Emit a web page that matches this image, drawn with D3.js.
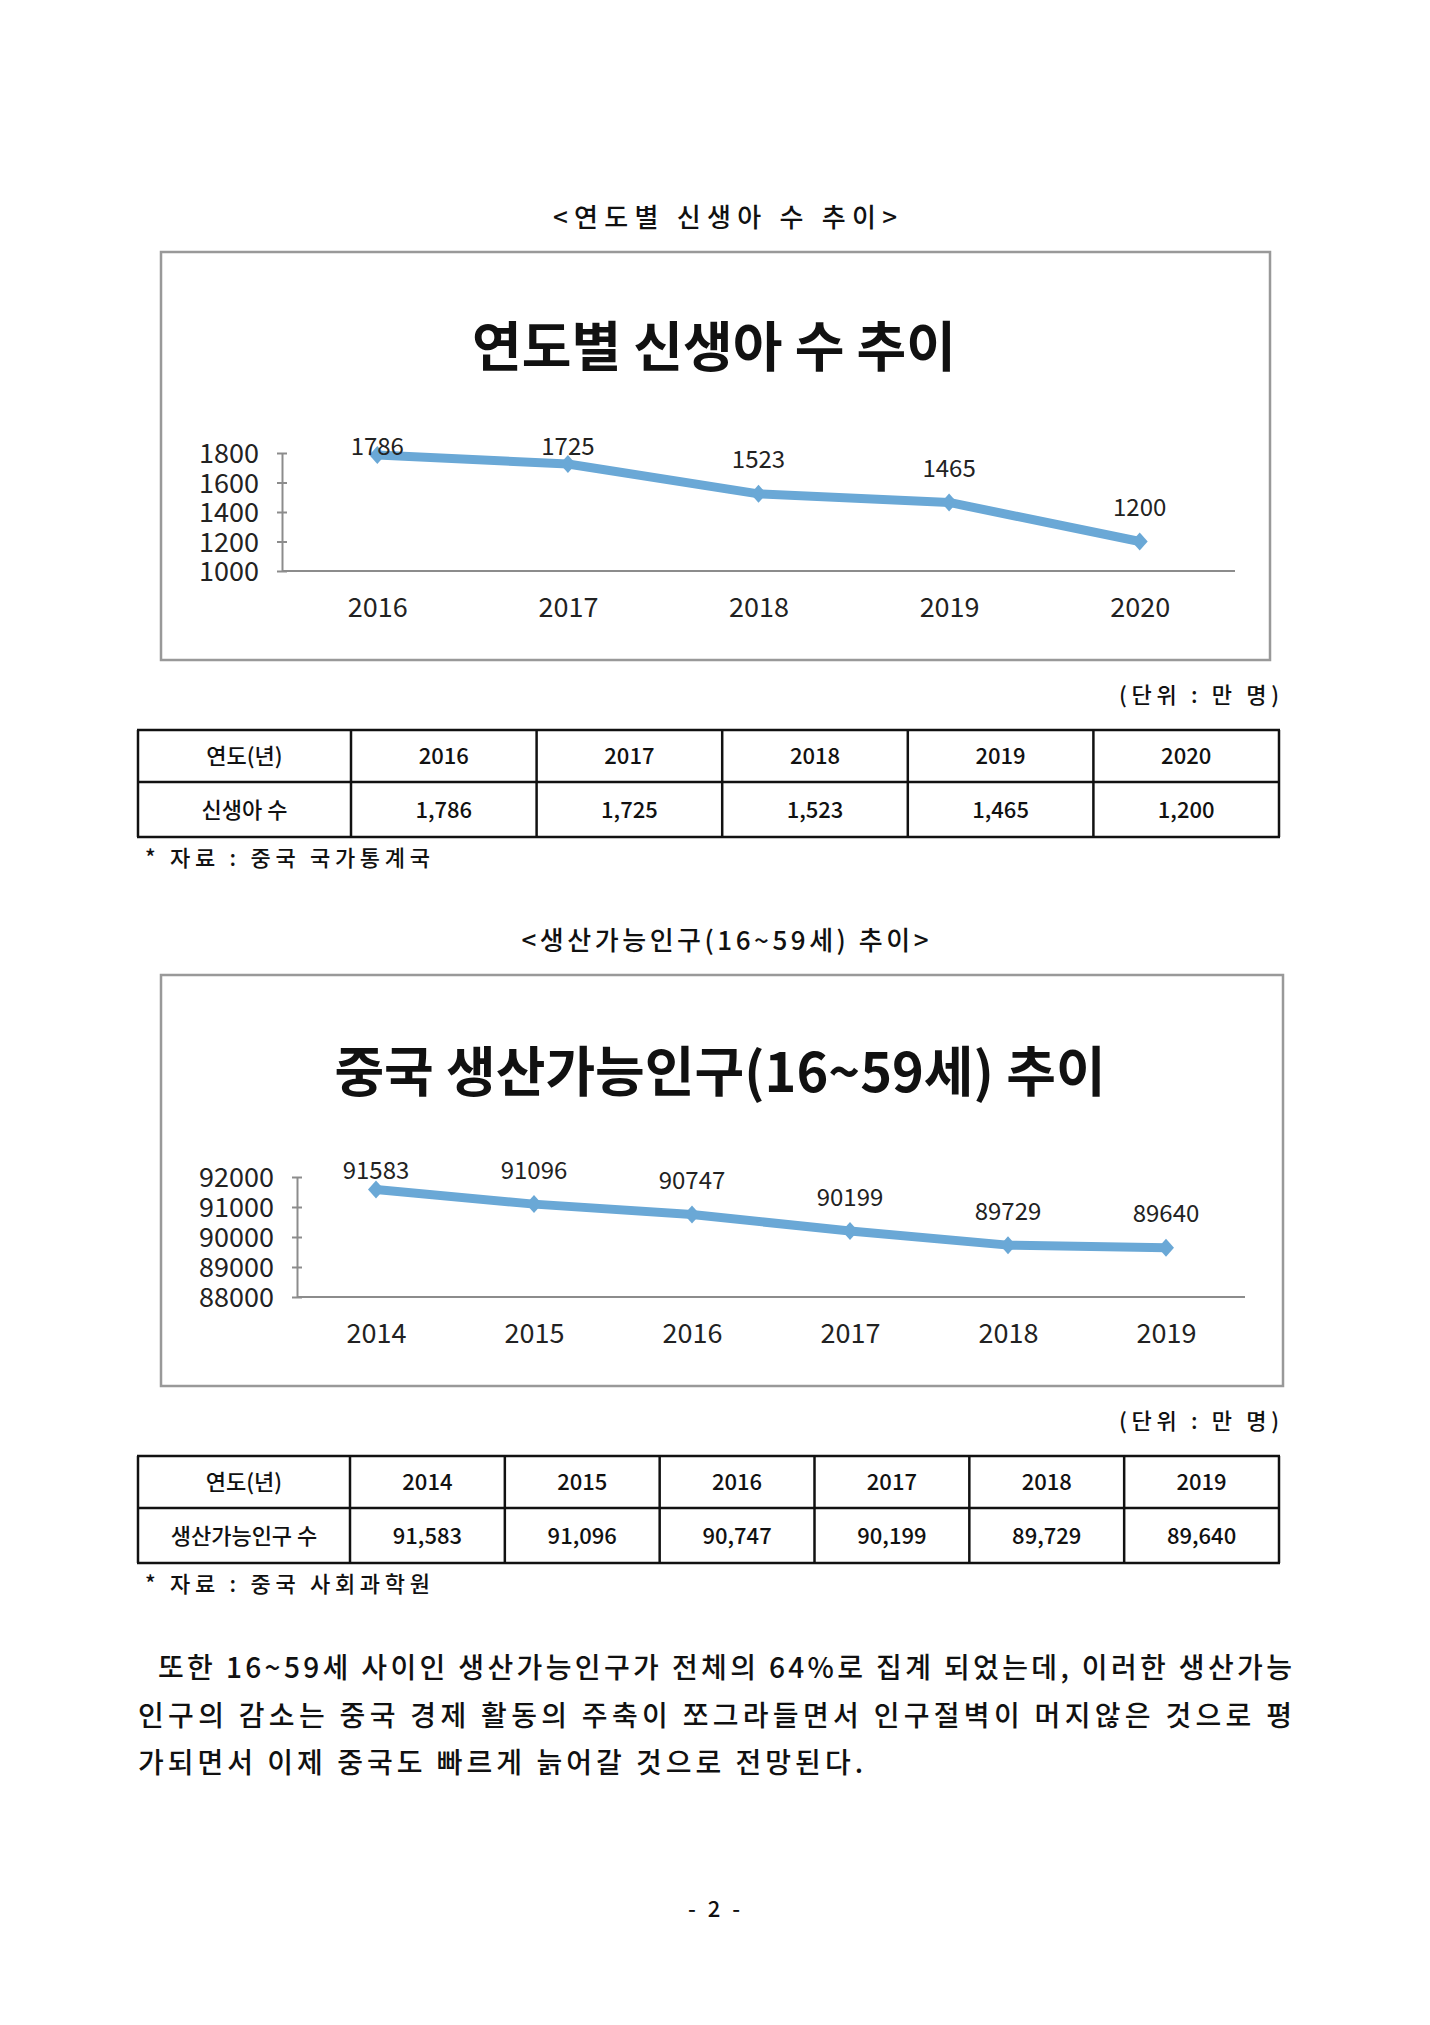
<html>
<head>
<meta charset="utf-8" />
<script src="https://d3js.org/d3.v7.min.js"></script>
<style>
  body { margin: 0; background: #fff; }
  svg text { font-family: "Noto Sans CJK KR", "Noto Sans", sans-serif; }
  .doc { fill: #111; font-weight: 500; }
  .axis path, .axis line { stroke: #8c8c8c; stroke-width: 2; }
  .axis text { fill: #222; font-size: 27px; }
</style>
</head>
<body>
<svg id="page" width="1430" height="2025"></svg>
<script>
// chart 1: births per year (만 명)
const birthYears = ["2016", "2017", "2018", "2019", "2020"];
const birthValues = [1786, 1725, 1523, 1465, 1200];
const birthTicks = [1000, 1200, 1400, 1600, 1800];

// chart 2: working-age population 16~59 (만 명)
const laborYears = ["2014", "2015", "2016", "2017", "2018", "2019"];
const laborValues = [91583, 91096, 90747, 90199, 89729, 89640];
const laborTicks = [88000, 89000, 90000, 91000, 92000];

const lineColor = "#6aa8d6";
const fmt = d3.format(",");

const svg = d3.select("#page");
svg.append("rect").attr("width", 1430).attr("height", 2025).attr("fill", "#fff");

function docText(txt, x, y, opts) {
  opts = opts || {};
  const t = svg.append("text")
    .attr("class", "doc")
    .attr("x", x).attr("y", y)
    .attr("dy", "0.38em")
    .attr("font-size", opts.size || 26)
    .attr("text-anchor", opts.anchor || "start")
    .text(txt);
  if (opts.len) t.attr("textLength", opts.len).attr("lengthAdjust", "spacing");
  return t;
}

function drawChart(c) {
  const g = svg.append("g");
  g.append("rect")
    .attr("x", c.box[0]).attr("y", c.box[1])
    .attr("width", c.box[2]).attr("height", c.box[3])
    .attr("fill", "#fff").attr("stroke", "#999").attr("stroke-width", 2.5);

  g.append("text")
    .attr("x", c.titleX).attr("y", c.titleY).attr("dy", "0.38em")
    .attr("text-anchor", "middle")
    .attr("font-size", 54).attr("font-weight", 700).attr("fill", "#111")
    .text(c.title);

  const x = d3.scalePoint().domain(c.cats).range([c.left, c.right]).padding(0.5);
  const y = d3.scaleLinear().domain(c.domain).range([c.bottom, c.top]);

  // y axis with cross ticks
  const ya = g.append("g").attr("class", "axis")
    .attr("transform", `translate(${c.left},0)`)
    .call(d3.axisLeft(y).tickValues(c.ticks).tickFormat(d3.format("d"))
      .tickSizeOuter(0).tickSizeInner(5).tickPadding(18));
  ya.selectAll(".tick line").attr("x1", -5).attr("x2", 5);
  ya.selectAll(".tick text").attr("dy", "0.36em");

  // x axis
  const xa = g.append("g").attr("class", "axis")
    .attr("transform", `translate(0,${c.bottom})`)
    .call(d3.axisBottom(x).tickSize(0).tickPadding(27));
  xa.select(".domain").attr("d", `M${c.left},0H${c.right}`);

  const line = d3.line().x((d, i) => x(c.cats[i])).y(d => y(d));
  g.append("path").datum(c.values)
    .attr("d", line)
    .attr("fill", "none").attr("stroke", lineColor)
    .attr("stroke-width", 9).attr("stroke-linejoin", "round");

  g.selectAll(".mk").data(c.values).join("path")
    .attr("class", "mk")
    .attr("d", "M0,-9L8,0L0,9L-8,0Z")
    .attr("fill", lineColor)
    .attr("transform", (d, i) => `translate(${x(c.cats[i])},${y(d)})`);

  g.selectAll(".lbl").data(c.values).join("text")
    .attr("class", "lbl")
    .attr("x", (d, i) => x(c.cats[i]))
    .attr("y", d => Math.max(y(d) - 34, c.top - 7))
    .attr("dy", "0.36em")
    .attr("text-anchor", "middle")
    .attr("font-size", 24).attr("fill", "#222")
    .text(d => d);
}

function drawTable(t) {
  const g = svg.append("g");
  const cols = d3.scaleBand().domain(t.cats).range([t.split, t.right]);
  const rows = [t.top, t.top + 52, t.top + 107];
  const cells = [[t.head].concat(t.cats), [t.label].concat(t.values.map(fmt))];
  const xs = [t.left, t.split].concat(t.cats.map(c => cols(c) + cols.bandwidth()));

  cells.forEach((row, r) => {
    row.forEach((txt, i) => {
      g.append("text").attr("class", "doc")
        .attr("x", (xs[i] + xs[i + 1]) / 2)
        .attr("y", (rows[r] + rows[r + 1]) / 2)
        .attr("dy", "0.38em").attr("text-anchor", "middle")
        .attr("font-size", 22)
        .text(txt);
    });
  });
  rows.forEach(yy => g.append("line")
    .attr("x1", t.left - 1).attr("x2", t.right + 1).attr("y1", yy).attr("y2", yy)
    .attr("stroke", "#111").attr("stroke-width", 2.5));
  xs.forEach(xx => g.append("line")
    .attr("x1", xx).attr("x2", xx).attr("y1", rows[0]).attr("y2", rows[2])
    .attr("stroke", "#111").attr("stroke-width", 2.5));
}

// ---- first block
docText("<연도별 신생아 수 추이>", 725, 217, { anchor: "middle", size: 26, len: 344 });
drawChart({
  box: [161, 252, 1109, 408], title: "연도별 신생아 수 추이", titleX: 714, titleY: 346,
  cats: birthYears, values: birthValues, ticks: birthTicks, domain: [1000, 1800],
  left: 282, right: 1235, top: 453, bottom: 571
});
docText("(단위 : 만 명)", 1279, 695, { anchor: "end", size: 22, len: 160 });
drawTable({
  left: 138, split: 351, right: 1279, top: 730,
  head: "연도(년)", label: "신생아 수", cats: birthYears, values: birthValues
});
docText("* 자료 : 중국 국가통계국", 145, 858, { size: 22, len: 285 });

// ---- second block
docText("<생산가능인구(16~59세) 추이>", 725, 940, { anchor: "middle", size: 26, len: 407 });
drawChart({
  box: [161, 975, 1122, 411], title: "중국 생산가능인구(16~59세) 추이", titleX: 720, titleY: 1071,
  cats: laborYears, values: laborValues, ticks: laborTicks, domain: [88000, 92000],
  left: 297, right: 1245, top: 1177, bottom: 1297
});
docText("(단위 : 만 명)", 1279, 1421, { anchor: "end", size: 22, len: 160 });
drawTable({
  left: 138, split: 350, right: 1279, top: 1456,
  head: "연도(년)", label: "생산가능인구 수", cats: laborYears, values: laborValues
});
docText("* 자료 : 중국 사회과학원", 145, 1584, { size: 22, len: 285 });

// ---- paragraph
docText("또한 16~59세 사이인 생산가능인구가 전체의 64%로 집계 되었는데, 이러한 생산가능", 158, 1667, { size: 28, len: 1134 });
docText("인구의 감소는 중국 경제 활동의 주축이 쪼그라들면서 인구절벽이 머지않은 것으로 평", 138, 1715, { size: 28, len: 1154 });
docText("가되면서 이제 중국도 빠르게 늙어갈 것으로 전망된다.", 138, 1762, { size: 28, len: 725 });

docText("- 2 -", 714, 1909, { anchor: "middle", size: 22, len: 52 });
</script>
</body>
</html>
